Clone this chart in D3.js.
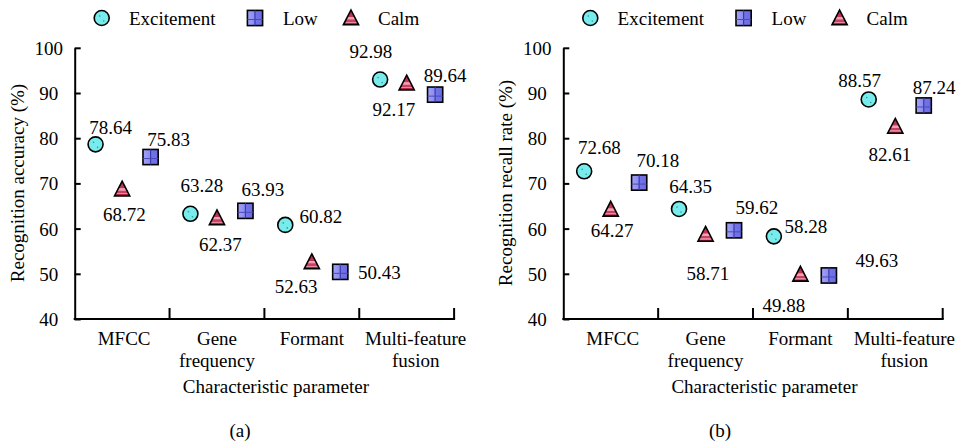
<!DOCTYPE html>
<html>
<head>
<meta charset="utf-8">
<script src="https://cdn.jsdelivr.net/npm/d3@7/dist/d3.min.js"></script>
</head>
<body style="margin:0;background:#fff">
<svg id="chart" width="965" height="448"></svg>
<script>
// ---- data ----
const categories = ["MFCC", "Gene frequency", "Formant", "Multi-feature fusion"];
const categoryLines = [["MFCC"], ["Gene", "frequency"], ["Formant"], ["Multi-feature", "fusion"]];
const seriesNames = ["Excitement", "Low", "Calm"];
const yTicks = [40, 50, 60, 70, 80, 90, 100];

// (a) recognition accuracy (%)
const accuracyExcitement = [78.64, 63.28, 60.82, 92.98];
const accuracyLow = [75.83, 63.93, 50.43, 89.64];
const accuracyCalm = [68.72, 62.37, 52.63, 92.17];

// (b) recognition recall rate (%)
const recallExcitement = [72.68, 64.35, 58.28, 88.57];
const recallLow = [70.18, 59.62, 49.63, 87.24];
const recallCalm = [64.27, 58.71, 49.88, 82.61];

// ---- layout / styling ----
const FONT = 19;
const FAMILY = "Liberation Serif";
const seriesPos = { Excitement: 0.22, Calm: 0.5, Low: 0.8 };
const categoryShift = [2, 0, 0, 9];

// value-label offsets (dx, dy) from each marker, per panel and series
const labelOffsetsA = {
  Excitement: [[15, -10], [11.5, -21.5], [35.7, -2.2], [-9.3, -21.5]],
  Low: [[18, -11], [17.5, -15], [39, 7.4], [10, -13]],
  Calm: [[2.3, 31.5], [3.5, 32.8], [-15.8, 30.8], [-12.8, 32.6]]
};
const labelOffsetsB = {
  Excitement: [[15.2, -17.3], [11.7, -16.2], [31.9, -3.7], [-9.2, -12.8]],
  Low: [[18.7, -15.3], [22.9, -16.3], [48, -8.8], [10.3, -11.5]],
  Calm: [[1.5, 27.4], [2.2, 46], [-16.6, 37.4], [-5.4, 34.3]]
};

const svg = d3.select("#chart");
svg.append("rect").attr("width", 965).attr("height", 448).attr("fill", "#fff");

function label(sel) {
  return sel.attr("font-family", FAMILY).attr("font-size", FONT).attr("fill", "#000");
}

// ---- gradients for marker fills ----
const defs = svg.append("defs");
const lowGrad = defs.append("linearGradient").attr("id", "lowFill")
  .attr("x1", 0).attr("y1", 0).attr("x2", 1).attr("y2", 0);
[[0, "#a3a3f7"], [0.45, "#8c8cf2"], [0.55, "#7474e8"], [1, "#6a6ae4"]]
  .forEach(([o, c]) => lowGrad.append("stop").attr("offset", o).attr("stop-color", c));

const calmGrad = defs.append("linearGradient").attr("id", "calmFill")
  .attr("x1", 0).attr("y1", 0).attr("x2", 0).attr("y2", 1);
[[0, "#b8284a"], [0.45, "#c33556"], [0.5, "#f0a0b2"], [0.62, "#f0a0b2"], [0.66, "#c94060"],
 [0.78, "#c94060"], [0.82, "#e88aa0"], [0.88, "#e88aa0"], [0.9, "#b02444"], [1, "#a82040"]]
  .forEach(([o, c]) => calmGrad.append("stop").attr("offset", o).attr("stop-color", c));

// ---- marker drawing ----
function drawMarker(g, name) {
  if (name === "Excitement") {
    g.append("circle").attr("r", 7.5).attr("fill", "#78ecec")
      .attr("stroke", "#000").attr("stroke-width", 1.6);
    g.append("circle").attr("cx", -2).attr("cy", -2).attr("r", 0.8).attr("fill", "#2a9a9a");
    g.append("circle").attr("cx", 2).attr("cy", 3).attr("r", 0.8).attr("fill", "#2a9a9a");
  } else if (name === "Low") {
    const s = 7.6;
    g.append("rect").attr("x", -s).attr("y", -s).attr("width", 2 * s).attr("height", 2 * s)
      .attr("fill", "url(#lowFill)").attr("stroke", "#000").attr("stroke-width", 1.6);
    g.append("line").attr("x1", 0).attr("x2", 0).attr("y1", -s).attr("y2", s)
      .attr("stroke", "#3a3aa8").attr("stroke-width", 1.2);
    g.append("line").attr("x1", -s).attr("x2", s).attr("y1", 1.5).attr("y2", 1.5)
      .attr("stroke", "#4a4ab8").attr("stroke-width", 1);
  } else {
    g.append("path").attr("d", "M0,-8 L7.6,6.8 L-7.6,6.8 Z")
      .attr("fill", "url(#calmFill)").attr("stroke", "#000")
      .attr("stroke-width", 1.6).attr("stroke-linejoin", "miter");
  }
}

// ---- one panel ----
function drawPanel(opts) {
  const { x0, values, offsets, yTitle, caption, captionX } = opts;
  const g = svg.append("g");
  const x = d3.scaleBand().domain(categories).range([x0, x0 + 379.4]).padding(0);
  const y = d3.scaleLinear().domain([40, 100]).range([319, 47.8]);
  const bw = x.bandwidth();

  // y axis (ticks point inward)
  const yAxis = d3.axisLeft(y).tickValues(yTicks).tickSizeInner(-6).tickSizeOuter(0).tickPadding(0);
  const ya = g.append("g").attr("transform", `translate(${x0},0)`).call(yAxis);
  ya.attr("font-family", FAMILY).attr("font-size", FONT);
  ya.select(".domain").attr("stroke", "#000").attr("stroke-width", 2);
  ya.selectAll(".tick line").attr("stroke", "#000").attr("stroke-width", 2);
  label(ya.selectAll(".tick text"))
    .attr("x", -26).attr("text-anchor", "middle").attr("dy", "0.34em");

  // x axis with category boundary ticks
  const xEnd = x0 + 379.4;
  g.append("line").attr("x1", x0 - 1).attr("x2", xEnd + 1).attr("y1", y(40)).attr("y2", y(40))
    .attr("stroke", "#000").attr("stroke-width", 2);
  g.selectAll(".xtick").data(categories).enter().append("line")
    .attr("x1", d => x(d) + bw).attr("x2", d => x(d) + bw)
    .attr("y1", y(40)).attr("y2", y(40) - 11)
    .attr("stroke", "#000").attr("stroke-width", 2);

  // category labels
  categories.forEach((c, i) => {
    const t = label(g.append("text")).attr("text-anchor", "middle")
      .attr("x", x(c) + bw / 2 + categoryShift[i]).attr("y", 344.5);
    categoryLines[i].forEach((ln, j) => {
      t.append("tspan").attr("x", x(c) + bw / 2 + categoryShift[i]).attr("dy", j === 0 ? 0 : 22).text(ln);
    });
  });

  // axis titles
  label(g.append("text")).attr("text-anchor", "middle")
    .attr("x", (x0 + xEnd) / 2 + 11.5).attr("y", 392.5).text("Characteristic parameter");
  label(g.append("text")).attr("text-anchor", "middle")
    .attr("transform", `translate(${x0 - 51},${183}) rotate(-90)`).text(yTitle);

  // caption
  label(g.append("text")).attr("text-anchor", "middle")
    .attr("x", captionX).attr("y", 437).text(caption);

  // legend
  const legendItems = [
    { name: "Excitement", mx: 27, tx: 54.3 },
    { name: "Low", mx: 180.3, tx: 208.3 },
    { name: "Calm", mx: 276.3, tx: 303.3 }
  ];
  legendItems.forEach(it => {
    const m = g.append("g").attr("transform", `translate(${x0 + it.mx},18)`);
    drawMarker(m, it.name);
    label(g.append("text")).attr("x", x0 + it.tx).attr("y", 24.5).text(it.name);
  });

  // markers and value labels
  seriesNames.forEach(s => {
    values[s].forEach((v, i) => {
      const cx = x(categories[i]) + bw * seriesPos[s];
      const cy = y(v);
      const m = g.append("g").attr("transform", `translate(${cx},${cy})`);
      drawMarker(m, s);
      const [dx, dy] = offsets[s][i];
      label(g.append("text")).attr("text-anchor", "middle")
        .attr("x", cx + dx).attr("y", cy + dy).text(v.toFixed(2));
    });
  });
}

drawPanel({
  x0: 74.7,
  values: { Excitement: accuracyExcitement, Low: accuracyLow, Calm: accuracyCalm },
  offsets: labelOffsetsA,
  yTitle: "Recognition accuracy (%)",
  caption: "(a)", captionX: 240
});
drawPanel({
  x0: 563.3,
  values: { Excitement: recallExcitement, Low: recallLow, Calm: recallCalm },
  offsets: labelOffsetsB,
  yTitle: "Recognition recall rate (%)",
  caption: "(b)", captionX: 720
});
</script>
</body>
</html>
